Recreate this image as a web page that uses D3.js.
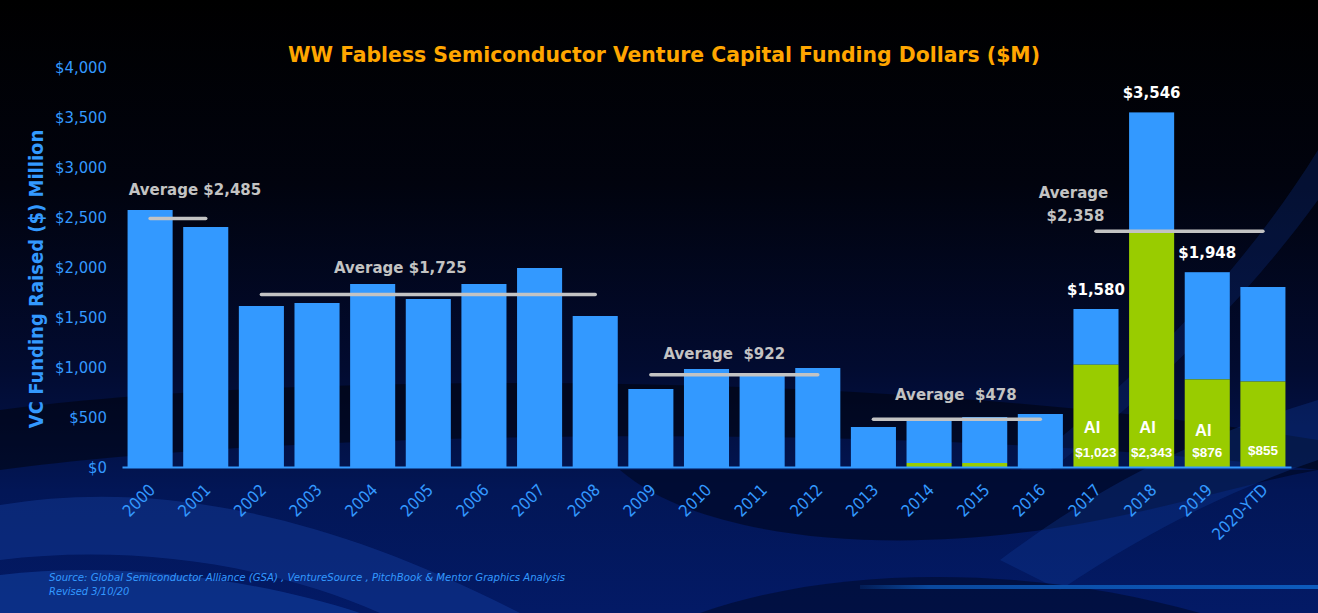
<!DOCTYPE html>
<html>
<head>
<meta charset="utf-8">
<script src="https://cdn.jsdelivr.net/npm/d3@7"></script>
<style>
  html, body { margin: 0; padding: 0; background: #000; overflow: hidden; }
  svg { display: block; }
</style>
</head>
<body>
<div id="chart"></div>
<script>
/**
 * Data
 */
// years on the x axis
var years = ["2000","2001","2002","2003","2004","2005","2006","2007","2008","2009","2010",
  "2011","2012","2013","2014","2015","2016","2017","2018","2019","2020-YTD"];
// total VC funding per year ($M)
var totals = [2570, 2400, 1610, 1640, 1830, 1680, 1830, 1990, 1510, 780, 980,
  938, 990, 400, 475, 500, 530, 1580, 3546, 1948, 1800];
// AI share of the funding ($M), drawn in green at the bottom of the bar
var aiValues = [0, 0, 0, 0, 0, 0, 0, 0, 0, 0, 0,
  0, 0, 0, 40, 40, 0, 1023, 2343, 876, 855];
// y axis ticks
var yTicks = [0, 500, 1000, 1500, 2000, 2500, 3000, 3500, 4000];
// average periods
var avgFrom = ["2000", "2002", "2009", "2013", "2017"];
var avgTo = ["2001", "2008", "2012", "2016", "2020-YTD"];
var avgValues = [2485, 1725, 922, 478, 2358];
var avgLabels = [["Average $2,485"], ["Average $1,725"], ["Average  $922"], ["Average  $478"], ["Average", "$2,358"]];
// total labels on top of the recent bars
var totalLabelYears = ["2017", "2018", "2019"];
var totalLabels = ["$1,580", "$3,546", "$1,948"];
// AI labels inside the green bars
var aiTagYears = ["2017", "2018", "2019"];
var aiAmountYears = ["2017", "2018", "2019", "2020-YTD"];
var aiAmountLabels = ["$1,023", "$2,343", "$876", "$855"];

/**
 * Layout
 */
var svgWidth = 1318;
var svgHeight = 613;
var blue = "#3399ff";
var green = "#99cc00";
var grey = "#c3c3c3";

var svg = d3.select("#chart").append("svg")
  .attr("width", svgWidth)
  .attr("height", svgHeight);

var defs = svg.append("defs");

// background gradient: black on top, deep blue at the bottom
var bg = defs.append("linearGradient").attr("id", "bg")
  .attr("x1", 0).attr("y1", 0).attr("x2", 0).attr("y2", 1);
bg.append("stop").attr("offset", "0%").attr("stop-color", "#000000");
bg.append("stop").attr("offset", "30%").attr("stop-color", "#01030e");
bg.append("stop").attr("offset", "60%").attr("stop-color", "#020b30");
bg.append("stop").attr("offset", "80%").attr("stop-color", "#021656");
bg.append("stop").attr("offset", "100%").attr("stop-color", "#031a66");

var glow = defs.append("linearGradient").attr("id", "glow")
  .attr("x1", 0).attr("y1", 0).attr("x2", 1).attr("y2", 0);
glow.append("stop").attr("offset", "0%").attr("stop-color", "#0b4fa8").attr("stop-opacity", 0.2);
glow.append("stop").attr("offset", "15%").attr("stop-color", "#0b4fa8").attr("stop-opacity", 0.9);
glow.append("stop").attr("offset", "100%").attr("stop-color", "#0d5bbd").attr("stop-opacity", 1);

svg.append("rect")
  .attr("width", svgWidth).attr("height", svgHeight)
  .attr("fill", "url(#bg)");

// decorative swooshes behind the chart
var deco = svg.append("g");
// dark arc behind the middle bars
deco.append("path")
  .attr("d", "M0,410 C300,370 900,370 1318,440 L1318,470 C900,420 300,430 0,470 Z")
  .attr("fill", "#000000").attr("opacity", 0.45);
// dark arc under the x labels on the right
deco.append("path")
  .attr("d", "M620,470 C700,540 900,560 1100,520 C1200,500 1260,480 1318,470 L1318,470 Z")
  .attr("fill", "#000826").attr("opacity", 0.7);
// lighter band sweeping up from the bottom middle to the left
deco.append("path")
  .attr("d", "M0,505 C150,480 320,510 520,613 L380,613 C260,560 120,545 0,560 Z")
  .attr("fill", "#1a48b0").attr("opacity", 0.35);
// lighter bottom-left corner
deco.append("path")
  .attr("d", "M0,575 C120,560 260,580 360,613 L0,613 Z")
  .attr("fill", "#1a50b8").attr("opacity", 0.4);
// lighter diagonal on the right
deco.append("path")
  .attr("d", "M1000,560 C1120,470 1220,430 1318,400 L1318,460 C1230,490 1150,530 1060,590 Z")
  .attr("fill", "#1040a0").attr("opacity", 0.3);
deco.append("path")
  .attr("d", "M1318,150 C1250,260 1150,370 1020,470 L1050,470 C1170,380 1260,280 1318,200 Z")
  .attr("fill", "#0c2a78").attr("opacity", 0.35);
// dark swoosh at the bottom right
deco.append("path")
  .attr("d", "M700,613 C850,560 1050,570 1200,613 Z")
  .attr("fill", "#000a2c").attr("opacity", 0.6);
deco.append("rect")
  .attr("x", 860).attr("y", 585).attr("width", svgWidth - 860).attr("height", 4)
  .attr("fill", "url(#glow)");

// scales
var xScale = d3.scaleBand()
  .domain(years)
  .range([122, 1291])
  .paddingInner(0.19)
  .paddingOuter(0.1);

var yScale = d3.scaleLinear()
  .domain([0, 4000])
  .range([467, 67]);

function cx(year) {
  return xScale(year) + xScale.bandwidth() / 2;
}

// title
svg.append("text")
  .attr("x", 664).attr("y", 62)
  .attr("text-anchor", "middle")
  .attr("font-family", "'DejaVu Sans Condensed', 'DejaVu Sans', sans-serif")
  .attr("font-weight", "bold")
  .attr("font-size", 21.5)
  .attr("textLength", 752)
  .attr("lengthAdjust", "spacingAndGlyphs")
  .attr("fill", "#ffa600")
  .text("WW Fabless Semiconductor Venture Capital Funding Dollars ($M)");

// y axis title
svg.append("text")
  .attr("transform", "translate(43, 279) rotate(-90)")
  .attr("text-anchor", "middle")
  .attr("font-family", "'DejaVu Sans Condensed', 'DejaVu Sans', sans-serif")
  .attr("font-weight", "bold")
  .attr("font-size", 20)
  .attr("fill", blue)
  .text("VC Funding Raised ($) Million");

// y axis (labels only)
var yAxis = d3.axisLeft(yScale)
  .tickValues(yTicks)
  .tickSize(0)
  .tickPadding(0)
  .tickFormat(d => "$" + d3.format(",")(d));

var yAxisG = svg.append("g")
  .attr("transform", "translate(107, 0)")
  .call(yAxis);
yAxisG.select(".domain").remove();
yAxisG.selectAll("text")
  .attr("font-family", "'DejaVu Sans Condensed', 'DejaVu Sans', sans-serif")
  .attr("font-size", 16.5)
  .attr("fill", blue);

// bars: blue total with the green AI share at the bottom
var barGroup = svg.append("g");
barGroup.selectAll("rect.total")
  .data(years)
  .enter().append("rect")
  .attr("class", "total")
  .attr("x", d => xScale(d))
  .attr("width", xScale.bandwidth())
  .attr("y", (d, i) => yScale(totals[i]))
  .attr("height", (d, i) => yScale(aiValues[i]) - yScale(totals[i]))
  .attr("fill", blue);

barGroup.selectAll("rect.ai")
  .data(years.filter((d, i) => aiValues[i] > 0))
  .enter().append("rect")
  .attr("class", "ai")
  .attr("x", d => xScale(d))
  .attr("width", xScale.bandwidth())
  .attr("y", d => yScale(aiValues[years.indexOf(d)]))
  .attr("height", d => yScale(0) - yScale(aiValues[years.indexOf(d)]))
  .attr("fill", green);

// x axis
var xAxis = d3.axisBottom(xScale)
  .tickSize(0)
  .tickSizeOuter(0);

var xAxisG = svg.append("g")
  .attr("transform", "translate(0, " + yScale(0) + ")")
  .call(xAxis);
xAxisG.select(".domain")
  .attr("stroke", blue)
  .attr("stroke-width", 2);
xAxisG.selectAll("text")
  .attr("font-family", "'DejaVu Sans Condensed', 'DejaVu Sans', sans-serif")
  .attr("font-size", 16.5)
  .attr("fill", blue)
  .attr("text-anchor", "end")
  .attr("y", 0)
  .attr("dy", 0)
  .attr("transform", "translate(6, 24) rotate(-45)");

// average lines
var avgGroup = svg.append("g");
avgGroup.selectAll("line")
  .data(avgValues)
  .enter().append("line")
  .attr("x1", (d, i) => cx(avgFrom[i]))
  .attr("x2", (d, i) => cx(avgTo[i]))
  .attr("y1", d => yScale(d))
  .attr("y2", d => yScale(d))
  .attr("stroke", grey)
  .attr("stroke-width", 3.5)
  .attr("stroke-linecap", "round");

// label placement relative to the line centre (dx) and the line height (dy)
var avgLabelDx = [17, -28, -10, -1, -106];
var avgLabelDy = [-24, -22, -16, -19, -33];
avgLabels.forEach((lines, i) => {
  var mid = (cx(avgFrom[i]) + cx(avgTo[i])) / 2;
  var t = avgGroup.append("text")
    .attr("x", mid + avgLabelDx[i])
    .attr("y", yScale(avgValues[i]) + avgLabelDy[i])
    .attr("text-anchor", "middle")
    .attr("font-family", "'DejaVu Sans', sans-serif")
    .attr("font-weight", "bold")
    .attr("font-size", 15)
    .attr("fill", grey)
    .style("white-space", "pre");
  lines.forEach((line, j) => {
    t.append("tspan")
      .attr("x", mid + avgLabelDx[i] + (j > 0 ? 2 : 0))
      .attr("dy", j === 0 ? 0 : 23)
      .text(line);
  });
});

// totals on top of the bars
svg.append("g").selectAll("text")
  .data(totalLabels)
  .enter().append("text")
  .attr("x", (d, i) => cx(totalLabelYears[i]))
  .attr("y", (d, i) => yScale(totals[years.indexOf(totalLabelYears[i])]) - 14)
  .attr("text-anchor", "middle")
  .attr("font-family", "'DejaVu Sans', sans-serif")
  .attr("font-weight", "bold")
  .attr("font-size", 15)
  .attr("fill", "#ffffff")
  .text(d => d);

// "AI" tags and AI amounts inside the green bars
var aiTagDy = [-34, -34, -31];
svg.append("g").selectAll("text")
  .data(aiTagYears)
  .enter().append("text")
  .attr("x", d => cx(d) - 4)
  .attr("y", (d, i) => yScale(0) + aiTagDy[i])
  .attr("text-anchor", "middle")
  .attr("font-family", "'Liberation Sans', Arial, sans-serif")
  .attr("font-weight", "bold")
  .attr("font-size", 16.5)
  .attr("fill", "#ffffff")
  .text("AI");

var aiAmountDy = [-10, -10, -10, -12];
svg.append("g").selectAll("text")
  .data(aiAmountLabels)
  .enter().append("text")
  .attr("x", (d, i) => cx(aiAmountYears[i]))
  .attr("y", (d, i) => yScale(0) + aiAmountDy[i])
  .attr("text-anchor", "middle")
  .attr("font-family", "'Liberation Sans', Arial, sans-serif")
  .attr("font-weight", "bold")
  .attr("font-size", 13.5)
  .attr("fill", "#ffffff")
  .text(d => d);

// source note
var note = svg.append("g")
  .attr("font-family", "'DejaVu Sans Condensed', 'DejaVu Sans', sans-serif")
  .attr("font-style", "italic")
  .attr("font-size", 11)
  .attr("fill", blue);
note.append("text")
  .attr("x", 49).attr("y", 581)
  .attr("textLength", 516)
  .attr("lengthAdjust", "spacingAndGlyphs")
  .text("Source: Global Semiconductor Alliance (GSA) , VentureSource , PitchBook & Mentor Graphics Analysis");
note.append("text")
  .attr("x", 49).attr("y", 595)
  .text("Revised 3/10/20");
</script>
</body>
</html>
